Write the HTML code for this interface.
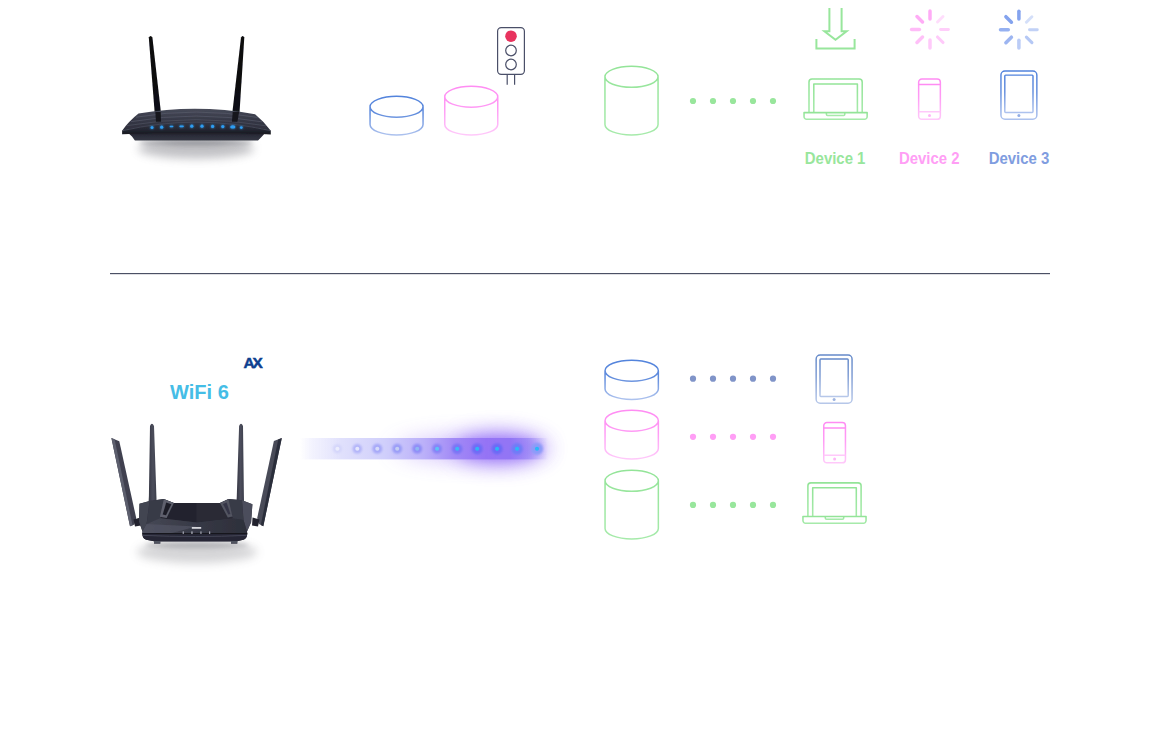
<!DOCTYPE html>
<html>
<head>
<meta charset="utf-8">
<title>WiFi 6 OFDMA diagram</title>
<style>
  html, body { margin: 0; padding: 0; background: #ffffff; }
  body { width: 1160px; height: 740px; overflow: hidden; position: relative; font-family: "Liberation Sans", sans-serif; }
  svg.stage { position: absolute; left: 0; top: 0; width: 1160px; height: 740px; display: block; }
  .lbl { font-family: "Liberation Sans", sans-serif; font-weight: bold; }
</style>
</head>
<body>
<svg class="stage" width="1160" height="740" viewBox="0 0 1160 740">
  <defs>
    <!-- vertical icon gradients (objectBoundingBox) -->
    <linearGradient id="gBlue" x1="0" y1="0" x2="0" y2="1">
      <stop offset="0" stop-color="#5283dc"/>
      <stop offset="0.45" stop-color="#628ddd"/>
      <stop offset="1" stop-color="#adc2ee"/>
    </linearGradient>
    <linearGradient id="gBlue2" x1="0" y1="0" x2="0" y2="1">
      <stop offset="0" stop-color="#6489c9"/>
      <stop offset="0.45" stop-color="#7d9bd3"/>
      <stop offset="1" stop-color="#b6c7e9"/>
    </linearGradient>
    <linearGradient id="gPink" x1="0" y1="0" x2="0" y2="1">
      <stop offset="0" stop-color="#ff8cf3"/>
      <stop offset="0.45" stop-color="#ff9bf5"/>
      <stop offset="1" stop-color="#ffc9fa"/>
    </linearGradient>
    <linearGradient id="gGreen" x1="0" y1="0" x2="0" y2="1">
      <stop offset="0" stop-color="#93e498"/>
      <stop offset="1" stop-color="#a6eaaa"/>
    </linearGradient>

    <!-- raster-ish softness + blurs -->
    <filter id="soft" x="-5%" y="-5%" width="110%" height="110%"><feGaussianBlur stdDeviation="0.42"/></filter>
    <filter id="blur2" x="-20%" y="-100%" width="140%" height="300%"><feGaussianBlur stdDeviation="2"/></filter>
    <filter id="blur5" x="-30%" y="-150%" width="160%" height="400%"><feGaussianBlur stdDeviation="5"/></filter>
    <filter id="ledGlow" x="-10%" y="-200%" width="120%" height="500%">
      <feGaussianBlur in="SourceGraphic" stdDeviation="0.9" result="g"/>
      <feGaussianBlur in="SourceGraphic" stdDeviation="0.35" result="s"/>
      <feMerge><feMergeNode in="g"/><feMergeNode in="s"/></feMerge>
    </filter>
    <linearGradient id="gAnt1" x1="0" y1="0" x2="0" y2="1">
      <stop offset="0" stop-color="#08080c"/><stop offset="0.8" stop-color="#0d0d13"/><stop offset="1" stop-color="#1b1c25"/>
    </linearGradient>
    <linearGradient id="gTop1" x1="0" y1="0" x2="0" y2="1">
      <stop offset="0" stop-color="#474a59"/><stop offset="0.5" stop-color="#363846"/><stop offset="1" stop-color="#2d2f3c"/>
    </linearGradient>
    <linearGradient id="gFront1" x1="0" y1="0" x2="0" y2="1">
      <stop offset="0" stop-color="#343644"/><stop offset="0.55" stop-color="#262833"/><stop offset="1" stop-color="#181920"/>
    </linearGradient>
    <linearGradient id="gBase1" x1="0" y1="0" x2="0" y2="1">
      <stop offset="0" stop-color="#14151c"/><stop offset="0.45" stop-color="#2a2c38"/><stop offset="1" stop-color="#353744"/>
    </linearGradient>

    <filter id="blur9" x="-60%" y="-250%" width="220%" height="600%"><feGaussianBlur stdDeviation="15 11"/></filter>
    <filter id="blur9b" x="-60%" y="-250%" width="220%" height="600%"><feGaussianBlur stdDeviation="11 10"/></filter>
    <filter id="blur5b" x="-40%" y="-150%" width="180%" height="400%"><feGaussianBlur stdDeviation="5"/></filter>
    <filter id="blur1" x="-5%" y="-60%" width="110%" height="220%"><feGaussianBlur stdDeviation="0.8"/></filter>
    <filter id="blur06" x="-5%" y="-60%" width="110%" height="220%"><feGaussianBlur stdDeviation="0.45"/></filter>
    <linearGradient id="gBand" gradientUnits="userSpaceOnUse" x1="300" y1="0" x2="548" y2="0">
      <stop offset="0" stop-color="#e6e6fd" stop-opacity="0"/>
      <stop offset="0.05" stop-color="#e6e6fd" stop-opacity="0.5"/>
      <stop offset="0.16" stop-color="#e1e1fc" stop-opacity="1"/>
      <stop offset="0.34" stop-color="#d0cffb"/>
      <stop offset="0.5" stop-color="#bbb0f9"/>
      <stop offset="0.62" stop-color="#a28af6"/>
      <stop offset="0.75" stop-color="#9573f5"/>
      <stop offset="0.85" stop-color="#9275f5"/>
      <stop offset="0.92" stop-color="#9a86f6" stop-opacity="0.75"/>
      <stop offset="0.985" stop-color="#a597f8" stop-opacity="0.15"/>
      <stop offset="1" stop-color="#a597f8" stop-opacity="0"/>
    </linearGradient>
    <linearGradient id="gAntIn" x1="0" y1="0" x2="1" y2="0">
      <stop offset="0" stop-color="#363845"/><stop offset="0.55" stop-color="#4c4e5c"/><stop offset="1" stop-color="#3b3d4a"/>
    </linearGradient>
    <linearGradient id="gFront2" x1="0" y1="0" x2="1" y2="0">
      <stop offset="0" stop-color="#474956"/><stop offset="0.5" stop-color="#373946"/><stop offset="1" stop-color="#2d2f3a"/>
    </linearGradient>

    <!-- laptop icon 64.4 x 41.6, origin top-left -->
    <g id="laptop" fill="none" stroke-width="1.55" stroke-linejoin="round">
      <path d="M5.6,34.3 V3.6 A3,3 0 0 1 8.6,0.65 H55.8 A3,3 0 0 1 58.8,3.6 V34.3"/>
      <path d="M10.4,34.3 V5.6 H54 V34.3"/>
      <path d="M0.65,34.3 H63.75 V38.4 A2.6,2.6 0 0 1 61.1,41 H3.3 A2.6,2.6 0 0 1 0.65,38.4 Z"/>
      <path d="M23,34.3 V35.9 A1.2,1.2 0 0 0 24.2,37.1 H40.2 A1.2,1.2 0 0 0 41.4,35.9 V34.3"/>
    </g>
    <!-- phone icon 23 x 41.6 -->
    <g id="phone" stroke-width="1.5">
      <rect x="0.65" y="0.65" width="21.7" height="40.3" rx="3.2" ry="3.2" fill="none"/>
      <path d="M0.65,6.2 H22.35 M0.65,33.4 H22.35" fill="none"/>
    </g>
    <!-- tablet icon 37.2 x 49.4 -->
    <g id="tablet" stroke-width="1.45">
      <rect x="0.65" y="0.65" width="35.9" height="48.1" rx="4" ry="4" fill="none"/>
      <rect x="4.5" y="4.7" width="28.2" height="37.3" rx="0.8" ry="0.8" fill="none"/>
    </g>
  </defs>

  <!-- ===== ROUTER 1 (old, two antennas) ===== -->
  <g id="router1">
    <!-- floor shadow -->
    <ellipse cx="196" cy="148.5" rx="58" ry="10" fill="#6a6b73" opacity="0.42" filter="url(#blur5)"/>
    <ellipse cx="196" cy="142.5" rx="57" ry="3" fill="#4a4b54" opacity="0.38" filter="url(#blur2)"/>
    <g filter="url(#soft)">
      <!-- antennas -->
      <path d="M148.8,37.6 Q150.6,34.3 152.4,37.6 L161,113 L161.4,121.8 H155.6 L154.7,113 Z" fill="url(#gAnt1)"/>
      <path d="M241,37.6 Q242.7,34.3 244.3,37.6 L239.5,113 L237.8,121.8 H231.6 L232.3,113 Z" fill="url(#gAnt1)"/>
      <!-- recessed base -->
      <path d="M126,131 H267 L261,137.6 L258,140.6 H134.9 L132,136.6 Z" fill="url(#gBase1)"/>
      <!-- top surface -->
      <path d="M122.1,130.8 Q129,121 138.5,113.6 Q196,103.8 255.1,114.2 Q264,121.5 270.8,130.8 Q196,116 122.1,130.8 Z" fill="url(#gTop1)"/>
      <!-- ridges on top surface -->
      <path d="M136,117.2 Q196,106.8 257.5,117.4" fill="none" stroke="#5a5d6c" stroke-width="0.9" opacity="0.75"/>
      <path d="M131,121.6 Q196,110.4 262,121.8" fill="none" stroke="#5a5d6c" stroke-width="0.9" opacity="0.7"/>
      <path d="M127,125.6 Q196,113.6 266,125.8" fill="none" stroke="#565968" stroke-width="0.9" opacity="0.6"/>
      <!-- front face -->
      <path d="M122.1,130.6 Q196,113.4 270.8,130.6 L270.8,134.4 Q196,130.6 122.1,134.2 Z" fill="url(#gFront1)"/>
      <path d="M122.6,130.7 Q196,113.6 270.4,130.7" fill="none" stroke="#4b4e5e" stroke-width="0.8" opacity="0.8"/>
      <!-- antenna feet over the top surface -->
      <path d="M155.4,112 L160.7,112 L161,121.8 H156 Z" fill="#14151c"/>
      <path d="M232.7,112 L239.1,112 L237.4,121.8 H232 Z" fill="#14151c"/>
    </g>
    <!-- LEDs -->
    <g fill="#2f9df2" filter="url(#ledGlow)">
      <circle cx="152" cy="127.4" r="1.5"/><circle cx="161.7" cy="127.2" r="1.6"/>
      <rect x="169.6" y="125.7" width="3.8" height="1.6" rx="0.8"/><rect x="179.4" y="125.6" width="4.4" height="1.6" rx="0.8"/>
      <circle cx="191.8" cy="126.2" r="1.6"/><circle cx="202" cy="126.2" r="1.6"/><circle cx="212.6" cy="126.4" r="1.6"/><circle cx="222.8" cy="126.6" r="1.6"/>
      <ellipse cx="232.8" cy="126.9" rx="2.6" ry="1.6"/><circle cx="241.3" cy="127.6" r="1.4"/>
    </g>
  </g>

  <!-- ===== divider ===== -->
  <rect x="110" y="273" width="940" height="1" fill="#4b5064"/>
  <rect x="110" y="274" width="940" height="1" fill="#4b5064" opacity="0.18"/>

  <!-- ===== TOP ROW: cylinders ===== -->
  <g fill="none" stroke-width="1.5">
    <path stroke="url(#gBlue)" d="M370.05,106.75 A26.50,10.5 0 0 1 423.05,106.75 A26.50,10.5 0 0 1 370.05,106.75 V124.50 A26.50,10.5 0 0 0 423.05,124.50 V106.75"/>
    <path stroke="url(#gPink)" d="M444.75,96.75 A26.50,10.5 0 0 1 497.75,96.75 A26.50,10.5 0 0 1 444.75,96.75 V124.50 A26.50,10.5 0 0 0 497.75,124.50 V96.75"/>
    <path stroke="url(#gGreen)" d="M604.95,76.85 A26.55,10.5 0 0 1 658.05,76.85 A26.55,10.5 0 0 1 604.95,76.85 V124.50 A26.55,10.5 0 0 0 658.05,124.50 V76.85"/>
  </g>

  <!-- traffic light -->
  <g fill="none" stroke="#4a4f68" stroke-width="1.2">
    <rect x="497.6" y="27.6" width="26.8" height="46.7" rx="3.6" ry="3.6"/>
    <circle cx="511" cy="50.5" r="5.3"/>
    <circle cx="511" cy="64.5" r="5.3"/>
    <path d="M507.2,74.3 V84.8 M514.6,74.3 V84.8"/>
  </g>
  <circle cx="511" cy="36.2" r="5.8" fill="#e8335e"/>

  <!-- top dots -->
  <g fill="#98e69c">
    <circle cx="693" cy="101" r="3.1"/><circle cx="713" cy="101" r="3.1"/><circle cx="733" cy="101" r="3.1"/><circle cx="753" cy="101" r="3.1"/><circle cx="773" cy="101" r="3.1"/>
  </g>

  <!-- download icon -->
  <g fill="none" stroke="#98e69c" stroke-width="2" stroke-linejoin="miter">
    <path d="M816.4,39 V48.4 H854.6 V39"/>
    <path d="M829.4,8 V31.3 H824.4 L835.5,39.7 L846.6,31.3 H841.6 V8"/>
  </g>

  <!-- top devices -->
  <use href="#laptop" x="803.4" y="78.3" stroke="url(#gGreen)"/>
  <g transform="translate(918,78.4)" stroke="url(#gPink)"><use href="#phone"/></g>
  <circle cx="929.5" cy="115.5" r="1.5" fill="#ffb6f8"/>
  <g transform="translate(1000.3,70.4)" stroke="url(#gBlue)"><use href="#tablet"/></g>
  <circle cx="1018.9" cy="115.6" r="1.5" fill="#93aee6"/>

  <!-- spinners -->
  <g id="spinPink" stroke="#ff9ef5" stroke-linecap="round" fill="none" transform="translate(930,29.5)">
    <path d="M0,-10.6 V-18.4" stroke-width="3.5" opacity="0.85"/>
    <path d="M0,-10.6 V-18.4" stroke-width="3.5" opacity="0.85" transform="rotate(-45)"/>
    <path d="M0,-10.6 V-18.4" stroke-width="3.5" opacity="0.7" transform="rotate(-90)"/>
    <path d="M0,-10.6 V-18.4" stroke-width="3.5" opacity="0.65" transform="rotate(-135)"/>
    <path d="M0,-10.6 V-18.4" stroke-width="3.5" opacity="0.55" transform="rotate(180)"/>
    <path d="M0,-10.6 V-18.4" stroke-width="3.1" opacity="0.55" transform="rotate(135)"/>
    <path d="M0,-10.6 V-18.4" stroke-width="2.9" opacity="0.5" transform="rotate(90)"/>
    <path d="M0,-10.6 V-18.4" stroke-width="2.9" opacity="0.35" transform="rotate(45)"/>
  </g>
  <g id="spinBlue" stroke="#84a3ee" stroke-linecap="round" fill="none" transform="translate(1018.9,29.7)">
    <path d="M0,-10.6 V-18.4" stroke-width="3.5" opacity="1"/>
    <path d="M0,-10.6 V-18.4" stroke-width="3.5" opacity="1" transform="rotate(-45)"/>
    <path d="M0,-10.6 V-18.4" stroke-width="3.5" opacity="0.85" transform="rotate(-90)"/>
    <path d="M0,-10.6 V-18.4" stroke-width="3.5" opacity="0.8" transform="rotate(-135)"/>
    <path d="M0,-10.6 V-18.4" stroke-width="3.5" opacity="0.55" transform="rotate(180)"/>
    <path d="M0,-10.6 V-18.4" stroke-width="3.1" opacity="0.6" transform="rotate(135)"/>
    <path d="M0,-10.6 V-18.4" stroke-width="2.9" opacity="0.5" transform="rotate(90)"/>
    <path d="M0,-10.6 V-18.4" stroke-width="2.9" opacity="0.35" transform="rotate(45)"/>
  </g>

  <!-- labels -->
  <text class="lbl" x="835.1" y="163.7" font-size="15.8" text-anchor="middle" fill="#98e69c" textLength="60.6" lengthAdjust="spacingAndGlyphs">Device 1</text>
  <text class="lbl" x="929.2" y="163.7" font-size="15.8" text-anchor="middle" fill="#ff9ef5" textLength="60.6" lengthAdjust="spacingAndGlyphs">Device 2</text>
  <text class="lbl" x="1019" y="163.7" font-size="15.8" text-anchor="middle" fill="#7f9de0" textLength="60.6" lengthAdjust="spacingAndGlyphs">Device 3</text>

  <!-- ===== BOTTOM ROW ===== -->
  <text class="lbl" x="199.4" y="399" font-size="20.4" text-anchor="middle" fill="#45bde6" textLength="58.8" lengthAdjust="spacingAndGlyphs">WiFi 6</text>
  <text class="lbl" x="243.6" y="368.2" font-size="15.4" fill="#0d3f8f" stroke="#0d3f8f" stroke-width="0.5" letter-spacing="-2.15">AX</text>

  <!-- ===== ROUTER 2 (WiFi 6, four antennas) ===== -->
  <g id="router2">
    <!-- floor shadow -->
    <ellipse cx="197" cy="552" rx="60" ry="11" fill="#74757c" opacity="0.3" filter="url(#blur5)"/>
    <ellipse cx="197" cy="545" rx="52" ry="3.2" fill="#5a5b64" opacity="0.3" filter="url(#blur2)"/>
    <g filter="url(#soft)">
      <!-- inner antennas -->
      <path d="M150,426 Q151.9,421.6 154,426 L156.4,496 L156.6,502 H148.6 L148.9,496 Z" fill="url(#gAntIn)"/>
      <path d="M239.1,426 Q241,421.6 243,426 L243.9,496 L244,502 H236.5 L236.8,496 Z" fill="url(#gAntIn)"/>
      <!-- outer antennas (blades) -->
      <path d="M111.4,438 L119.3,441.2 L136.2,518 L134.4,524.6 L130,526.2 Z" fill="#3f414f"/>
      <path d="M111.4,438 L114.6,439.3 L132.6,525.4 L130,526.2 Z" fill="#5d5f6e"/>
      <path d="M281.8,438.1 L273.9,441 L257.2,518 L259,524 L263.3,526.2 Z" fill="#494b59"/>
      <path d="M281.8,438.1 L278.2,439.4 L260.8,525 L263.3,526.2 Z" fill="#2c2e3a"/>
      <!-- hinges -->
      <path d="M133.5,519.5 L140.5,517.5 L141,525.5 L135,526.5 Z" fill="#22232e"/>
      <path d="M259.5,519.5 L252.5,517.5 L252,525.5 L258,526.5 Z" fill="#22232e"/>
      <!-- body silhouette -->
      <path d="M139.5,503.8 L149.6,501 L163.8,499.1 L173.9,502.9 H220 L228.5,499.1 L242,500.3 L252.4,504.2 L251.1,522.3 L247,531.4 L247.3,534 Q247,538.5 243.3,539.8 L237,541.2 V543.6 H231 V541.6 H160 V543.6 H154 V541.2 L146.3,539.8 Q142.5,538.5 142.3,534 L142.5,531.4 L139,521.5 Z" fill="#31333f"/>
      <!-- left side facet -->
      <path d="M139.5,503.8 L149.6,501 L146.6,524 L142.5,531.4 L139,521.5 Z" fill="#424451"/>
      <!-- right side facet -->
      <path d="M242,500.3 L252.4,504.2 L251.1,522.3 L247,531.4 L243.5,520 Z" fill="#4c4e5b"/>
      <!-- upper shell (between side facets) -->
      <path d="M149.6,501 L163.8,499.1 L173.9,502.9 H220 L228.5,499.1 L242,500.3 L243.5,520 L234,519 H160 L146.6,524 Z" fill="#383a47"/>
      <!-- dark top face -->
      <path d="M173.9,502.9 H220 L233,518.2 L196.5,522.4 L160,518.2 Z" fill="#23242e"/>
      <path d="M196.5,502.9 H220 L233,518.2 L196.5,522.4 Z" fill="#292a35"/>
      <!-- vents -->
      <path d="M163.8,499.2 L173.9,502.9 L166.6,517.9 L159.9,516.8 Z" fill="#5e606d"/>
      <path d="M166.2,502.5 L171.4,504.2 L166,515.2 L162.7,514.6 Z" fill="#1d1e28"/>
      <path d="M228.5,499.2 L220,502.9 L227.8,517.5 L232.4,516.4 Z" fill="#525461"/>
      <path d="M226.6,502.4 L223,504 L228.4,514.4 L230.4,513.9 Z" fill="#343646"/>
      <!-- front face -->
      <path d="M146.6,524 L160,518.2 L196.5,522.4 L233,518.2 L243.5,520 L247,531.4 L247.2,533.4 H142.4 L142.5,531.4 Z" fill="url(#gFront2)"/>
      <path d="M142.5,531.4 L146.6,524 L196.5,526.5 L170,533.4 H142.4 Z" fill="#565867" opacity="0.6"/>
      <!-- base ring -->
      <path d="M142.3,533.4 H247.3 Q247,538.5 243.3,539.8 L237,541.2 H154 L146.3,539.8 Q142.5,538.5 142.3,533.4 Z" fill="#262734"/>
      <path d="M143,535.4 Q196.5,537.6 246.6,535.4" fill="none" stroke="#4b4d5f" stroke-width="0.8"/>
      <path d="M142.4,533.5 H247.2" fill="none" stroke="#14151c" stroke-width="0.9"/>
      <!-- feet -->
      <rect x="154" y="541" width="6.5" height="2.7" fill="#50525f"/>
      <rect x="231" y="541" width="6.5" height="2.7" fill="#50525f"/>
      <!-- logo + leds -->
      <rect x="191.8" y="527" width="9.4" height="1.8" fill="#f2f2f6" opacity="0.85"/>
      <g fill="#d8d9e4" opacity="0.75">
        <rect x="182.7" y="531.4" width="1.1" height="2.6"/><rect x="191.3" y="531.4" width="1.3" height="2.6"/>
        <rect x="200.4" y="531.4" width="1.1" height="2.6"/><rect x="209.1" y="531.4" width="1.1" height="2.6"/>
      </g>
    </g>
  </g>

  <!-- ===== OFDMA glow beam ===== -->
  <g id="beam">
    <!-- big violet halo -->
    <ellipse cx="470" cy="448.6" rx="70" ry="12" fill="#8a5ff6" opacity="0.4" filter="url(#blur9)"/>
    <ellipse cx="500" cy="448.6" rx="46" ry="17" fill="#8a5ff6" opacity="0.62" filter="url(#blur9b)"/>
    <ellipse cx="500" cy="448.6" rx="42" ry="12" fill="#7d55f5" opacity="0.26" filter="url(#blur5b)"/>
    <!-- band -->
    <rect x="300" y="438" width="248" height="21.4" fill="url(#gBand)" filter="url(#soft)"/>
    <!-- dot halos -->
    <g filter="url(#blur1)">
      <circle cx="337.4" cy="448.8" r="4.6" fill="#cfd0fa" opacity="0.75"/>
      <circle cx="357.3" cy="448.8" r="4.8" fill="#aeb0f8" opacity="0.9"/>
      <circle cx="377.3" cy="448.8" r="5" fill="#a3a5f8" opacity="0.95"/>
      <circle cx="397.2" cy="448.8" r="5" fill="#9a9cf7"/>
      <circle cx="417.2" cy="448.8" r="5" fill="#8f8df7"/>
      <circle cx="437.1" cy="448.8" r="5" fill="#8683f7"/>
      <circle cx="457.2" cy="448.8" r="5.4" fill="#7a74f6"/>
      <circle cx="477.2" cy="448.8" r="5.6" fill="#706cf6"/>
      <circle cx="497.1" cy="448.8" r="5.6" fill="#6c6af6"/>
      <circle cx="517.1" cy="448.8" r="5.8" fill="#6f7bf7"/>
      <circle cx="537" cy="448.8" r="6" fill="#8b9bf9"/>
    </g>
    <!-- dot cores -->
    <g filter="url(#blur06)">
      <circle cx="337.4" cy="448.8" r="2.05" fill="#ecedfd"/>
      <circle cx="357.3" cy="448.8" r="2.05" fill="#e4e6fd"/>
      <circle cx="377.3" cy="448.8" r="2.05" fill="#d5daf9"/>
      <circle cx="397.2" cy="448.8" r="2.05" fill="#c3cdf3"/>
      <circle cx="417.2" cy="448.8" r="2.05" fill="#8fb6f3"/>
      <circle cx="437.1" cy="448.8" r="2.05" fill="#5fc0f6"/>
      <circle cx="457.2" cy="448.8" r="2.05" fill="#3fb4f6"/>
      <circle cx="477.2" cy="448.8" r="2.05" fill="#33b1f7"/>
      <circle cx="497.1" cy="448.8" r="2.05" fill="#2fb3f7"/>
      <circle cx="517.1" cy="448.8" r="2.05" fill="#2fb5f8"/>
      <circle cx="537" cy="448.8" r="2.05" fill="#2db6f8"/>
    </g>
  </g>

  <!-- bottom cylinders -->
  <g fill="none" stroke-width="1.5">
    <path stroke="url(#gBlue)" d="M605.05,370.65 A26.65,10.5 0 0 1 658.35,370.65 A26.65,10.5 0 0 1 605.05,370.65 V388.95 A26.65,10.5 0 0 0 658.35,388.95 V370.65"/>
    <path stroke="url(#gPink)" d="M605.05,420.65 A26.65,10.5 0 0 1 658.35,420.65 A26.65,10.5 0 0 1 605.05,420.65 V448.45 A26.65,10.5 0 0 0 658.35,448.45 V420.65"/>
    <path stroke="url(#gGreen)" d="M605.05,480.85 A26.65,10.5 0 0 1 658.35,480.85 A26.65,10.5 0 0 1 605.05,480.85 V528.45 A26.65,10.5 0 0 0 658.35,528.45 V480.85"/>
  </g>

  <!-- bottom dots -->
  <g fill="#8094c8">
    <circle cx="693" cy="378.7" r="3.1"/><circle cx="713" cy="378.7" r="3.1"/><circle cx="733" cy="378.7" r="3.1"/><circle cx="753" cy="378.7" r="3.1"/><circle cx="773" cy="378.7" r="3.1"/>
  </g>
  <g fill="#ff9ef5">
    <circle cx="693" cy="436.8" r="3.1"/><circle cx="713" cy="436.8" r="3.1"/><circle cx="733" cy="436.8" r="3.1"/><circle cx="753" cy="436.8" r="3.1"/><circle cx="773" cy="436.8" r="3.1"/>
  </g>
  <g fill="#98e69c">
    <circle cx="693" cy="504.9" r="3.1"/><circle cx="713" cy="504.9" r="3.1"/><circle cx="733" cy="504.9" r="3.1"/><circle cx="753" cy="504.9" r="3.1"/><circle cx="773" cy="504.9" r="3.1"/>
  </g>

  <!-- bottom devices -->
  <g transform="translate(815.5,354.4)" stroke="url(#gBlue2)"><use href="#tablet"/></g>
  <circle cx="834.1" cy="399.6" r="1.5" fill="#9fb4e0"/>
  <g transform="translate(823.1,421.9)" stroke="url(#gPink)"><use href="#phone"/></g>
  <circle cx="834.6" cy="459" r="1.5" fill="#ffb6f8"/>
  <use href="#laptop" x="802.3" y="482.2" stroke="url(#gGreen)"/>
</svg>
</body>
</html>
